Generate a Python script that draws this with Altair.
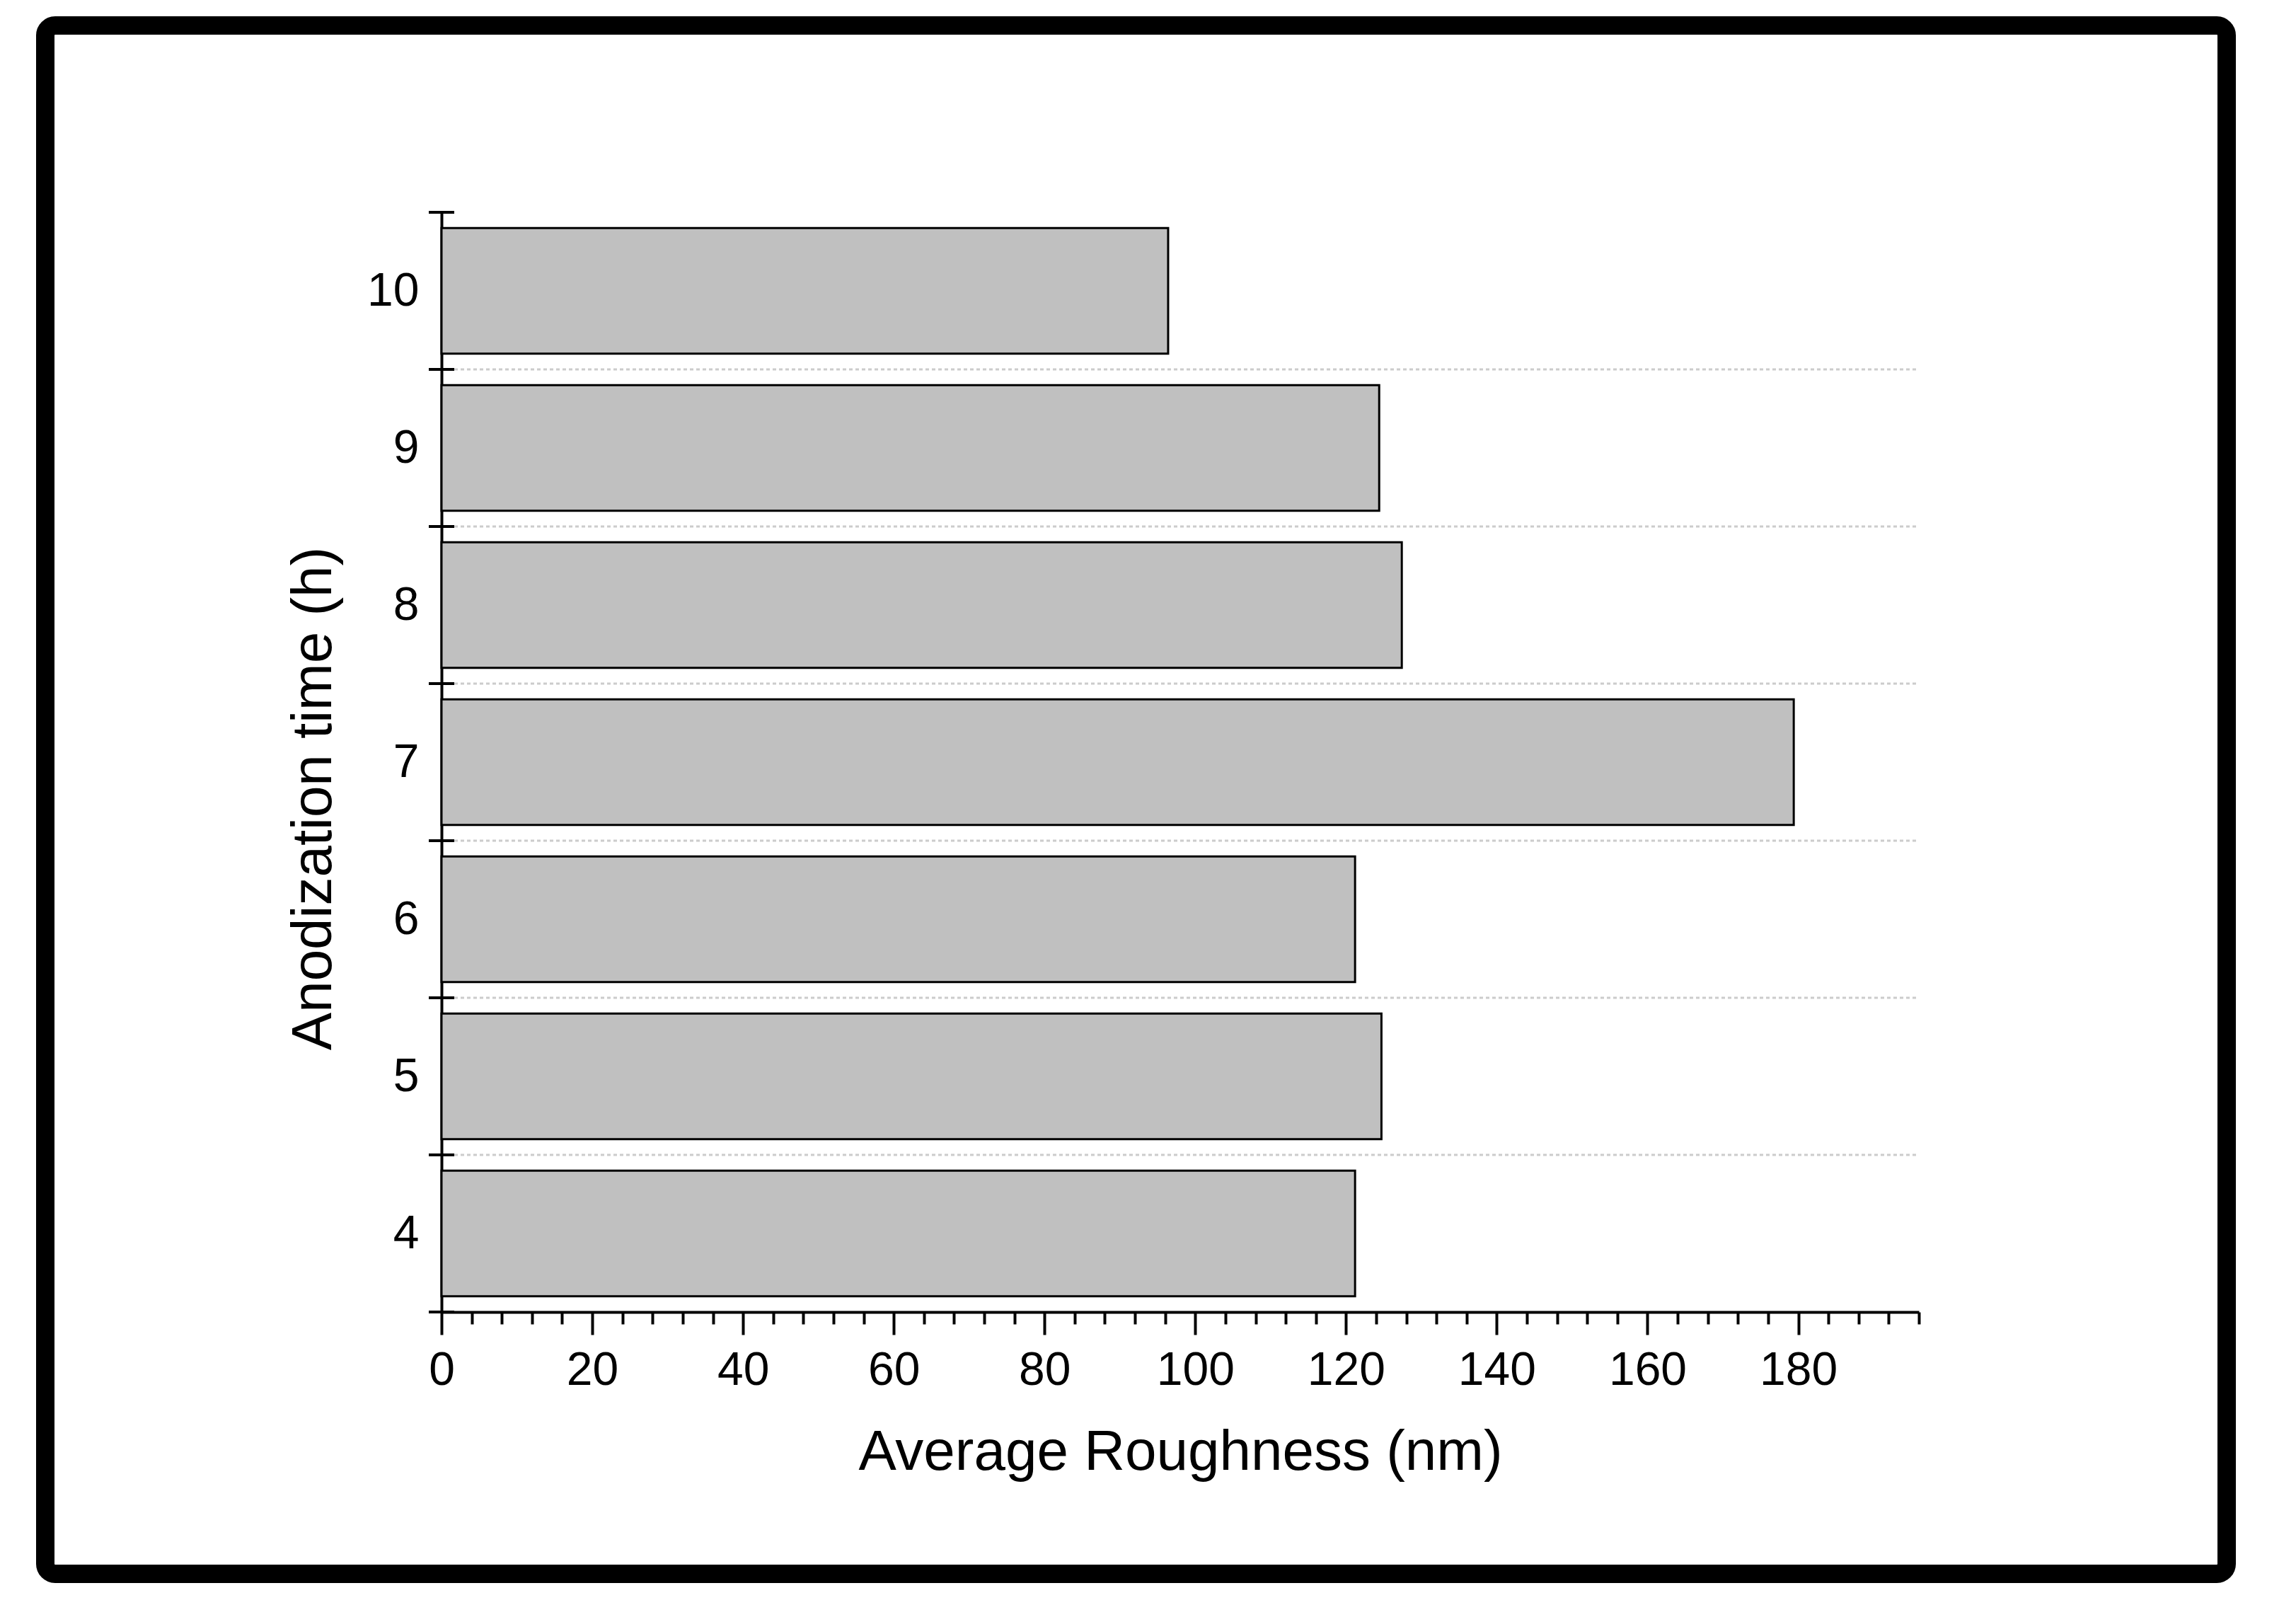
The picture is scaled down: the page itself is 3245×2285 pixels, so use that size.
import altair as alt
import pandas as pd

# ---- data ----
times = [4, 5, 6, 7, 8, 9, 10]
roughness = [121.2, 124.7, 121.2, 179.4, 127.4, 124.4, 96.4]
boundaries = [3.5, 4.5, 5.5, 6.5, 7.5, 8.5, 9.5, 10.5]
grid_lines = [4.5, 5.5, 6.5, 7.5, 8.5, 9.5]
x_ticks = list(range(0, 197, 4))
x_label_step = 20

W, H = 2088, 1554
FONT = "Liberation Sans"

bars_df = pd.DataFrame({"time": times, "roughness": roughness})
bound_df = pd.DataFrame({"b": boundaries})
grid_df = pd.DataFrame({"g": grid_lines})
frame_df = pd.DataFrame({"a": [0]})

xscale = alt.Scale(domain=[0, 196], nice=False, zero=False)
yscale = alt.Scale(domain=[3.5, 10.5], nice=False, zero=False)

y_axis = alt.Axis(
    orient="left",
    values=times,
    ticks=False,
    domain=True,
    domainColor="black",
    domainWidth=4,
    labelFont=FONT,
    labelFontSize=66,
    labelColor="black",
    labelPadding=32,
    labelOverlap=False,
    labelFlush=False,
    titleFont=FONT,
    titleFontSize=80,
    titleFontWeight="normal",
    titleColor="black",
    titlePadding=34,
    titleY=828,
    grid=False,
)

bars = alt.Chart(bars_df).transform_calculate(
    lo="datum.time - 0.4", hi="datum.time + 0.4"
).mark_rect(fill="#c0c0c0", stroke="black", strokeWidth=3).encode(
    x=alt.X(
        "roughness:Q",
        scale=xscale,
        title="Average Roughness (nm)",
        axis=alt.Axis(
            values=x_ticks,
            labelExpr=f"datum.value % {x_label_step} == 0 ? datum.label : ''",
            tickSize={"condition": {"test": f"datum.value % {x_label_step} == 0", "value": 32}, "value": 17},
            tickWidth=4,
            tickColor="black",
            domainColor="black",
            domainWidth=4,
            labelFont=FONT,
            labelFontSize=66,
            labelColor="black",
            labelPadding=18,
            labelOverlap=False,
            labelFlush=False,
            titleFont=FONT,
            titleFontSize=80,
            titleFontWeight="normal",
            titleColor="black",
            titlePadding=44,
            grid=False,
        ),
    ),
    x2=alt.datum(0),
    y=alt.Y("lo:Q", scale=yscale, title="Anodization time (h)", axis=y_axis),
    y2="hi:Q",
)

grid = alt.Chart(grid_df).mark_rule(
    color="#cccccc", strokeWidth=3, strokeDash=[5, 4]
).encode(
    y=alt.Y("g:Q", scale=yscale, title="Anodization time (h)", axis=y_axis),
    x=alt.value(0),
    x2=alt.value(W),
)

yticks = alt.Chart(bound_df).mark_rule(color="black", strokeWidth=4).encode(
    y=alt.Y("b:Q", scale=yscale, title="Anodization time (h)", axis=y_axis),
    x=alt.value(-18),
    x2=alt.value(18),
)

frame = alt.Chart(frame_df).mark_rect(
    fillOpacity=0, stroke="black", strokeWidth=26, cornerRadius=14
).encode(
    x=alt.value(-560),
    x2=alt.value(2523),
    y=alt.value(-264),
    y2=alt.value(1924),
)

chart = alt.layer(bars, grid, yticks, frame).properties(
    width=W,
    height=H,
    padding={"left": 616, "top": 292, "right": 520, "bottom": 420},
    autosize=alt.AutoSizeParams(type="none"),
    background="white",
).configure_view(stroke=None)

chart.save("out.html", embed_options={"renderer": "svg", "actions": False})
